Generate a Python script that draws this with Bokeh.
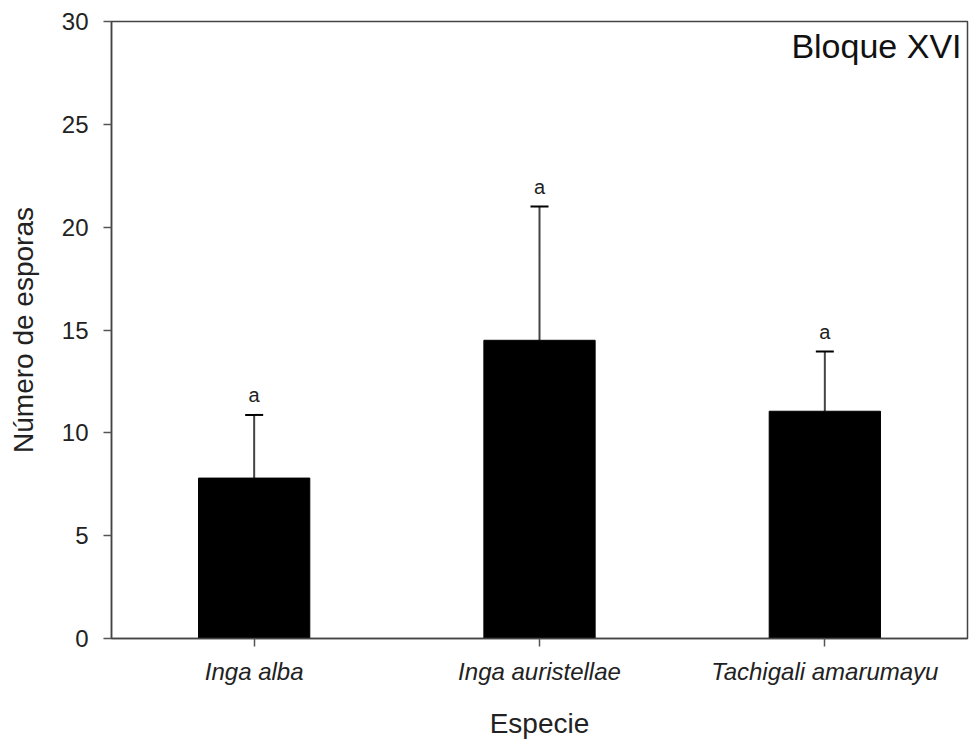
from bokeh.plotting import figure
from bokeh.models import ColumnDataSource, Whisker, TeeHead, Label, FactorRange, Range1d
from bokeh.core.properties import value
from bokeh.embed import file_html
from bokeh.resources import INLINE

species = ["Inga alba", "Inga auristellae", "Tachigali amarumayu"]
means = [7.8, 14.5, 11.05]
errors = [3.07, 6.5, 2.9]
letters = ["a", "a", "a"]
y_ticks = [0, 5, 10, 15, 20, 25, 30]

upper = [m + e for m, e in zip(means, errors)]
src = ColumnDataSource(dict(x=species, mean=means, upper=upper, letter=letters))

FONT = "Liberation Sans"

p = figure(x_range=FactorRange(*species, range_padding=0), y_range=Range1d(0, 30),
           width=970, height=742, output_backend="svg", toolbar_location=None,
           min_border_left=111, min_border_right=3, min_border_top=21, min_border_bottom=104)

p.vbar(x="x", top="mean", width=0.39, source=src, fill_color="black", line_color="black")

w = Whisker(base="x", lower="mean", upper="upper", source=src,
            line_color="#444444", line_width=2,
            upper_head=TeeHead(size=18, line_color="black", line_width=2),
            lower_head=None)
p.add_layout(w)

p.text(x="x", y="upper", text="letter", source=src, text_align="center",
       text_baseline="bottom", y_offset=-9, text_font=value(FONT),
       text_font_size="20px", text_color="#222222")

p.add_layout(Label(x=3, y=30, text="Bloque XVI", text_align="right", text_baseline="top",
                   x_offset=-6, y_offset=-5, text_font=FONT, text_font_size="34px",
                   text_color="#111111"))

p.xgrid.visible = False
p.ygrid.visible = False
p.outline_line_color = "#444444"
p.outline_line_width = 1.5
p.background_fill_color = "white"
p.border_fill_color = "white"

p.yaxis.ticker = y_ticks
p.yaxis.axis_label = "Número de esporas"
p.xaxis.axis_label = "Especie"
for ax in (p.xaxis[0], p.yaxis[0]):
    ax.axis_line_color = "#444444"
    ax.axis_line_width = 1.5
    ax.major_tick_line_color = "#555555"
    ax.major_tick_line_width = 1.5
    ax.major_tick_in = 0
    ax.major_tick_out = 8
    ax.minor_tick_line_color = None
    ax.major_label_text_font = FONT
    ax.major_label_text_font_size = "24px"
    ax.major_label_text_color = "#222222"
    ax.axis_label_text_font = FONT
    ax.axis_label_text_font_size = "28px"
    ax.axis_label_text_font_style = "normal"
    ax.axis_label_text_color = "#222222"

p.xaxis.major_label_text_font_style = "italic"
p.xaxis.major_label_standoff = 11
p.xaxis.axis_label_standoff = 20
p.yaxis.major_label_standoff = 15
p.yaxis.axis_label_standoff = 20

open("out.html", "w").write(file_html(p, INLINE))
